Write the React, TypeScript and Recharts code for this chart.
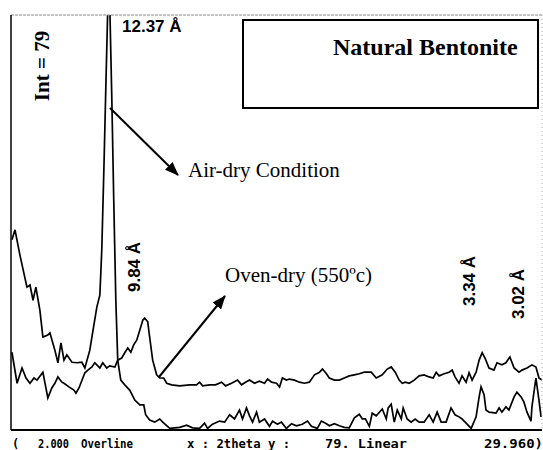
import React from "react";
import { LineChart, Line, XAxis, YAxis } from "recharts";

// 2-theta (degrees) and intensity (counts)
const airDry2Theta = [
  2.05, 2.21, 2.47, 2.84, 3.0, 3.16, 3.31, 3.52, 3.68, 3.94, 4.05, 4.31, 4.47, 4.63, 4.79, 4.94, 5.21, 5.47, 5.73, 5.89,
  6.15, 6.26, 6.52, 6.68, 6.78, 6.89, 6.99, 7.1, 7.2, 7.31, 7.41, 7.52, 7.62, 7.78, 7.99, 8.25, 8.52, 8.78, 8.99, 9.09,
  9.3, 9.57, 9.83, 9.99, 10.36, 10.88, 11.25, 11.56, 11.93, 12.19, 12.35, 12.61, 12.98, 13.25, 13.51, 13.77, 14.03, 14.19, 14.4, 14.56,
  14.72, 14.93, 15.08, 15.35, 15.61, 15.77, 16.03, 16.24, 16.5, 16.77, 17.03, 17.34, 17.61, 17.82, 18.13, 18.34, 18.61, 18.76, 19.03, 19.29,
  19.55, 19.81, 20.08, 20.34, 20.5, 20.66, 20.87, 21.02, 21.23, 21.55, 21.76, 21.86, 22.02, 22.18, 22.34, 22.55, 22.65, 22.86, 23.07, 23.28,
  23.49, 23.75, 24.02, 24.23, 24.44, 24.65, 24.91, 25.17, 25.38, 25.59, 25.75, 26.23, 26.49, 26.65, 26.75, 26.91, 27.01, 27.17, 27.54, 27.7,
  27.85, 28.06, 28.22, 28.49, 28.64, 28.86, 29.01, 29.17, 29.38, 29.43, 29.64, 29.8, 29.91,
];
const airDryCounts = [
  36.2, 38.1, 33.3, 27.2, 27.6, 24.7, 27.2, 22.8, 17.7, 18.1, 18.5, 15.2, 12.8, 16.6, 13.3, 14.3, 12.9, 12.8, 12.9, 11.8,
  15.2, 17.7, 23.4, 25.7, 34.3, 49.5, 64.7, 81, 81, 62.8, 43.8, 24.7, 13.3, 9.5, 8.6, 7.6, 5.7, 4.8, 4.8, 2.9,
  1.9, 1.5, 2.1, 1.5, 0.3, 0.5, 0.9, 0.4, 0.3, 1.3, 0.3, 1.1, 1.7, 1.5, 2.9, 2.1, 3.8, 2.1, 4.2, 2.7,
  1.5, 3.4, 1.5, 2.1, 0.7, 1.7, 1.1, 1.5, 0.3, 1.2, 0.8, 1.1, 1.7, 0.7, 0.3, 1.7, 1.2, 0.8, 1.2, 0.8,
  0.5, 0.4, 2.3, 3.0, 2.1, 2.1, 0.7, 3.2, 2.7, 4.0, 2.1, 4.2, 4.9, 1.5, 3.8, 2.1, 4.2, 2.1, 1.5, 2.1,
  1.5, 1.5, 2.9, 1.5, 3.4, 1.5, 1.5, 4.2, 2.9, 2.5, 2.1, 0.3, 2.5, 6.3, 8.2, 6.7, 3.8, 3.4, 3.2, 4.2,
  3.4, 4.4, 3.8, 6.3, 7.2, 6.3, 5.3, 3.4, 1.7, 4.4, 9.9, 5.7, 2.5,
];

const ovenDry2Theta = [
  2.05, 2.32, 2.58, 2.79, 3.0, 3.21, 3.37, 3.68, 3.94, 4.15, 4.31, 4.47, 4.68, 4.79, 5.05, 5.31, 5.42, 5.58, 5.89, 6.05,
  6.26, 6.41, 6.52, 6.68, 6.83, 7.04, 7.2, 7.47, 7.62, 7.83, 7.99, 8.15, 8.31, 8.46, 8.62, 8.78, 8.94, 9.04, 9.2, 9.3,
  9.46, 9.67, 9.83, 10.04, 10.2, 10.46, 10.88, 11.41, 11.77, 11.93, 12.09, 12.46, 12.77, 13.09, 13.3, 13.61, 13.93, 14.14, 14.35, 14.56,
  14.82, 15.08, 15.35, 15.51, 15.72, 15.98, 16.14, 16.29, 16.5, 16.66, 16.92, 17.19, 17.45, 17.71, 17.98, 18.24, 18.4, 18.61, 18.76, 19.03,
  19.29, 19.55, 19.81, 20.08, 20.34, 20.6, 20.97, 21.23, 21.55, 21.81, 22.02, 22.23, 22.44, 22.6, 22.76, 22.97, 23.23, 23.49, 23.75, 24.02,
  24.23, 24.39, 24.54, 24.81, 25.07, 25.23, 25.38, 25.59, 25.75, 25.96, 26.12, 26.28, 26.49, 26.65, 26.81, 26.96, 27.17, 27.43, 27.59, 27.85,
  28.06, 28.27, 28.49, 28.75, 28.91, 29.17, 29.43, 29.64, 29.8, 29.96,
];
const ovenDryCounts = [
  14.8, 8.9, 11.8, 9.9, 8.9, 9.9, 9.5, 11.0, 6.1, 8.0, 8.9, 10.1, 9.1, 8.9, 8.2, 7.6, 7.0, 8.0, 10.9, 11.4,
  12.0, 12.8, 12.4, 11.8, 12.8, 11.8, 12.2, 12.0, 13.3, 13.7, 14.7, 15.6, 14.8, 16.2, 17.1, 19.0, 20.9, 21.3, 20.6, 17.7,
  13.3, 10.5, 9.9, 9.9, 8.9, 8.6, 8.4, 8.6, 8.6, 9.1, 8.4, 8.6, 8.6, 9.1, 8.4, 8.9, 9.5, 8.6, 9.1, 9.5,
  8.9, 9.3, 8.9, 9.7, 9.1, 8.9, 8.2, 9.9, 9.5, 9.7, 9.5, 9.1, 8.9, 9.1, 10.5, 11.0, 11.6, 10.7, 9.9, 9.5,
  9.5, 9.9, 10.3, 10.5, 10.7, 11.0, 11.0, 9.9, 10.5, 11.6, 12.0, 11.0, 9.5, 8.9, 9.1, 8.9, 9.5, 10.3, 10.5, 10.1,
  9.9, 11.0, 10.3, 10.7, 11.0, 11.4, 10.1, 8.9, 10.3, 9.1, 10.9, 9.5, 11.0, 13.3, 14.7, 13.7, 11.8, 11.4, 12.8, 12.4,
  12.8, 13.9, 11.8, 11.0, 11.4, 11.8, 12.4, 12.0, 9.9, 9.5,
];

const xTicks = [4.73, 7.43, 10.13, 12.83, 15.53, 18.23, 20.93, 23.63, 26.33, 29.03];
const topTicks = [3.5, 5.0, 6.5, 8.0, 9.5, 11.0, 12.5, 14.0, 15.5, 17.0, 18.5, 20.0, 21.5, 23.0, 24.5, 26.0, 27.5, 29.0];
const yTicks = [7.9, 15.8, 23.7, 31.6, 39.5, 47.4, 55.3, 63.2, 71.1];
const xDomain = [2, 29.96];
const yDomain = [0, 79];

const airDryData = airDry2Theta.map((x, i) => ({ x, y: airDryCounts[i] }));
const ovenDryData = ovenDry2Theta.map((x, i) => ({ x, y: ovenDryCounts[i] }));

const serif = "'Liberation Serif', 'Times New Roman', serif";
const sans = "'Liberation Sans', Arial, sans-serif";
const mono = "'DejaVu Sans Mono', 'Liberation Mono', monospace";

export default function App() {
  return (
    <div style={{ position: "absolute", left: 0, top: 0, width: 543, height: 450, background: "#fff" }}>
      <LineChart width={543} height={450} margin={{ top: 14, right: 0, bottom: 0, left: 0 }}>
        <XAxis
          dataKey="x"
          type="number"
          domain={xDomain}
          ticks={xTicks}
          allowDataOverflow
          height={20}
          tick={false}
          tickSize={-4}
          axisLine={{ stroke: "#000", strokeWidth: 2 }}
          tickLine={{ stroke: "#000" }}
        />
        <XAxis
          xAxisId="t"
          orientation="top"
          dataKey="x"
          type="number"
          domain={xDomain}
          ticks={topTicks}
          allowDataOverflow
          height={1}
          tick={false}
          tickSize={-3}
          axisLine={{ stroke: "#888", strokeWidth: 1, strokeDasharray: "3 1" }}
          tickLine={{ stroke: "#888" }}
        />
        <YAxis
          type="number"
          domain={yDomain}
          ticks={yTicks}
          allowDataOverflow
          width={11}
          tick={false}
          tickSize={-3}
          axisLine={{ stroke: "#000", strokeWidth: 1.5 }}
          tickLine={{ stroke: "#000" }}
        />
        <YAxis
          yAxisId="r"
          orientation="right"
          type="number"
          domain={yDomain}
          ticks={yTicks}
          allowDataOverflow
          width={1}
          tick={false}
          tickSize={-3}
          axisLine={{ stroke: "#aaa", strokeWidth: 1, strokeDasharray: "1 3" }}
          tickLine={{ stroke: "#999" }}
        />
        <Line
          data={airDryData}
          dataKey="y"
          type="linear"
          stroke="#000"
          strokeWidth={1.7}
          dot={false}
          isAnimationActive={false}
        />
        <Line
          data={ovenDryData}
          dataKey="y"
          type="linear"
          stroke="#000"
          strokeWidth={1.7}
          dot={false}
          isAnimationActive={false}
        />
      </LineChart>
      <svg
        width={543}
        height={450}
        style={{ position: "absolute", left: 0, top: 0, pointerEvents: "none" }}
      >
        <defs>
          <marker id="ah" markerUnits="userSpaceOnUse" markerWidth="14" markerHeight="11" refX="13" refY="5.5" orient="auto">
            <path d="M0,0 L14,5.5 L0,11 z" fill="#000" />
          </marker>
        </defs>
        <text x={122} y={32} fontFamily={sans} fontWeight="bold" fontSize={17} fill="#000">12.37 Å</text>
        <text
          x={41.5}
          y={66}
          transform="rotate(-90 41.5 66)"
          textAnchor="middle"
          dominantBaseline="central"
          fontFamily={serif}
          fontWeight="bold"
          fontSize={21}
          fill="#000"
        >
          Int = 79
        </text>
        <rect x={243} y={20} width={295} height={88} fill="#fff" stroke="#000" strokeWidth={2} />
        <text x={333} y={55} fontFamily={serif} fontWeight="bold" fontSize={24} fill="#000">Natural Bentonite</text>
        <line x1={110} y1={108} x2={178} y2={175} stroke="#000" strokeWidth={2} markerEnd="url(#ah)" />
        <text x={188} y={177} fontFamily={serif} fontSize={21} fill="#000">Air-dry Condition</text>
        <line x1={159} y1={377} x2={225} y2={296} stroke="#000" strokeWidth={2} markerEnd="url(#ah)" />
        <text x={225} y={282} fontFamily={serif} fontSize={21} fill="#000">Oven-dry (550ºc)</text>
        {[
          { t: "9.84 Å", cx: 134, cy: 267 },
          { t: "3.34 Å", cx: 469, cy: 281 },
          { t: "3.02 Å", cx: 518, cy: 294 },
        ].map((d) => (
          <text
            key={d.t}
            x={d.cx}
            y={d.cy}
            transform={`rotate(-90 ${d.cx} ${d.cy})`}
            textAnchor="middle"
            dominantBaseline="central"
            fontFamily={sans}
            fontWeight="bold"
            fontSize={17}
            fill="#000"
          >
            {d.t}
          </text>
        ))}
        <g fontFamily={mono} fontWeight="bold" fontSize={12} fill="#000">
          <text x={12} y={448}>(</text>
          <text x={38} y={448} textLength={31} lengthAdjust="spacingAndGlyphs">2.000</text>
          <text x={81} y={448} textLength={52} lengthAdjust="spacingAndGlyphs">Overline</text>
          <text x={187} y={448} textLength={103} lengthAdjust="spacingAndGlyphs">x : 2theta y :</text>
          <text x={325} y={448} textLength={82} lengthAdjust="spacingAndGlyphs">79. Linear</text>
          <text x={484} y={448} textLength={59} lengthAdjust="spacingAndGlyphs">29.960)</text>
        </g>
      </svg>
    </div>
  );
}
